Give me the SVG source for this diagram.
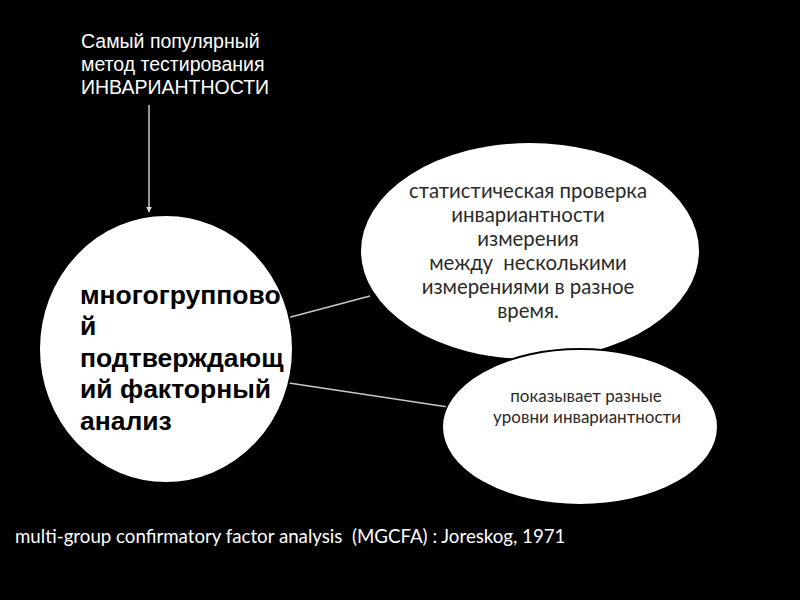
<svg xmlns="http://www.w3.org/2000/svg" width="800" height="600" viewBox="0 0 800 600">
<style>
.bg{fill:#000}
.node{fill:#fff;stroke:#000;stroke-width:2}
.conn{stroke:#c8c8c8;stroke-width:1.5;fill:none}
.top{font-family:"Liberation Sans",Arial,sans-serif;font-size:19.5px;fill:#fff}
.big{font-family:"Liberation Sans",Arial,sans-serif;font-size:26.5px;font-weight:bold;fill:#000}
.cal{font-family:Lato,"Open Sans",sans-serif;fill:#2a2a2a;text-anchor:middle;white-space:pre}
.foot{font-family:Lato,"Open Sans",sans-serif;font-size:18.7px;fill:#fff;white-space:pre}
</style>
<defs>
<marker id="ah" viewBox="0 0 10 10" refX="9" refY="5" markerWidth="4" markerHeight="4" orient="auto">
<path d="M0,0 L10,5 L0,10 z" fill="#ddd"/>
</marker>
</defs>
<rect class="bg" x="0" y="0" width="800" height="600"/>
<g id="label-top">
<text class="top" x="81" y="48">Самый популярный</text>
<text class="top" x="81" y="71">метод тестирования</text>
<text class="top" x="81" y="94">ИНВАРИАНТНОСТИ</text>
</g>
<g id="connectors">
<line class="conn" x1="149" y1="105" x2="149" y2="212" stroke-width="1" marker-end="url(#ah)"/>
<line class="conn" x1="287" y1="318" x2="370" y2="296"/>
<line class="conn" x1="289" y1="383" x2="448" y2="407"/>
</g>
<g id="node-mgcfa">
<ellipse class="node" cx="166" cy="349" rx="127" ry="134"/>
<text class="big" x="80" y="304">многогруппово</text>
<text class="big" x="80" y="335">й</text>
<text class="big" x="80" y="367">подтверждающ</text>
<text class="big" x="80" y="398">ий факторный</text>
<text class="big" x="80" y="430">анализ</text>
</g>
<g id="node-check">
<ellipse class="node" cx="530" cy="251" rx="170" ry="109"/>
<text class="cal" font-size="20.4" x="528" y="198">статистическая проверка</text>
<text class="cal" font-size="20.4" x="528" y="222">инвариантности</text>
<text class="cal" font-size="20.4" x="528" y="246">измерения</text>
<text class="cal" font-size="20.4" x="528" y="270">между  несколькими</text>
<text class="cal" font-size="20.4" x="528" y="294">измерениями в разное</text>
<text class="cal" font-size="20.4" x="528" y="318">время.</text>
</g>
<g id="node-levels">
<ellipse class="node" cx="580" cy="427" rx="138" ry="78"/>
<text class="cal" font-size="17" x="586" y="402">показывает разные</text>
<text class="cal" font-size="17" x="587" y="423">уровни инвариантности</text>
</g>
<g id="footnote">
<text class="foot" x="15" y="543">multi-group confirmatory factor analysis  (MGCFA) : Joreskog, 1971</text>
</g>
</svg>
